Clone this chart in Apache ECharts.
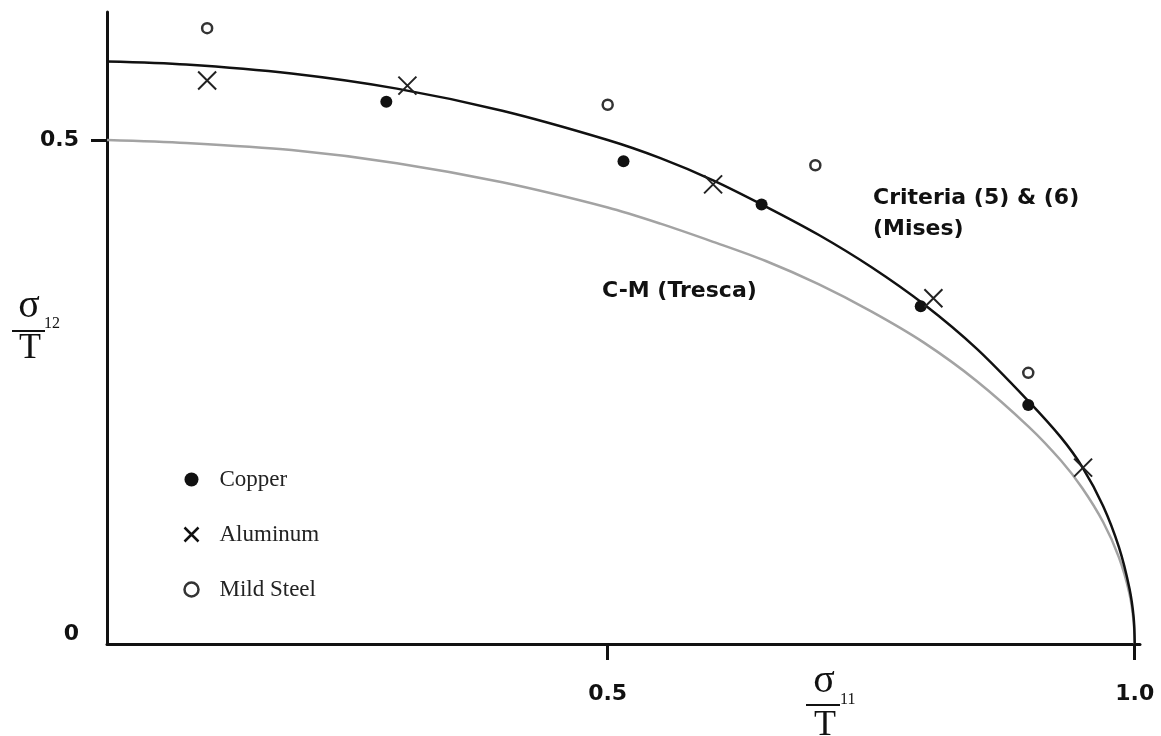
<!DOCTYPE html>
<html>
<head>
<meta charset="utf-8">
<script src="https://cdn.jsdelivr.net/npm/echarts@6/dist/echarts.min.js"></script>
<style>
  html, body { margin: 0; padding: 0; background: #fff; }
  #chart { width: 1161px; height: 736px; }
</style>
</head>
<body>
<div id="chart"></div>
<script>
// ---- Data ----
// Mises criterion curve (black)
const misesX = [0.025, 0.1, 0.2, 0.3, 0.4, 0.5, 0.55, 0.6, 0.65, 0.7, 0.75, 0.8, 0.85, 0.9, 0.93, 0.95, 0.97, 0.985, 0.995, 0.999, 1.0];
const misesY = [0.578, 0.575, 0.566, 0.551, 0.529, 0.500, 0.482, 0.460, 0.434, 0.406, 0.374, 0.337, 0.293, 0.240, 0.205, 0.176, 0.137, 0.096, 0.055, 0.026, 0.0];
// C-M (Tresca) curve (grey)
const trescaX = [0.025, 0.1, 0.2, 0.3, 0.4, 0.5, 0.55, 0.6, 0.65, 0.7, 0.75, 0.8, 0.85, 0.9, 0.93, 0.95, 0.97, 0.985, 0.995, 0.999, 1.0];
const trescaY = [0.500, 0.497, 0.490, 0.477, 0.458, 0.433, 0.417, 0.399, 0.380, 0.357, 0.330, 0.299, 0.261, 0.215, 0.182, 0.155, 0.121, 0.086, 0.050, 0.022, 0.0];
// Experimental points
const copperX = [0.290, 0.515, 0.646, 0.797, 0.899];
const copperY = [0.538, 0.479, 0.436, 0.335, 0.237];
const aluminumX = [0.120, 0.310, 0.600, 0.809, 0.951];
const aluminumY = [0.559, 0.554, 0.456, 0.343, 0.175];
const steelX = [0.120, 0.500, 0.697, 0.899];
const steelY = [0.611, 0.535, 0.475, 0.269];
// Tick labels
const xTicks = [0.5, 1.0];
const yTicks = [0, 0.5];
const yTickMarks = [0.5];
const seriesNames = ['Copper', 'Aluminum', 'Mild Steel'];

const pairs = (xs, ys) => xs.map((x, i) => [x, ys[i]]);

const SANS = '"DejaVu Sans", sans-serif';
const SERIF = '"Liberation Serif", "DejaVu Serif", serif';

const chart = echarts.init(document.getElementById('chart'), null, { renderer: 'canvas' });

const option = {
  backgroundColor: '#ffffff',
  animation: false,
  grid: { left: 107, right: 21, top: 12, bottom: 92 },
  xAxis: {
    type: 'value',
    min: 0.025,
    max: 1.005,
    axisLine: { show: true, onZero: false, lineStyle: { color: '#111', width: 3 } },
    axisTick: { show: true, customValues: xTicks, length: 16, lineStyle: { color: '#111', width: 3 } },
    axisLabel: {
      show: true, customValues: xTicks, margin: 39,
      fontFamily: SANS, fontWeight: 'bold', fontSize: 22, color: '#111',
      formatter: v => v.toFixed(1)
    },
    splitLine: { show: false }
  },
  yAxis: {
    type: 'value',
    min: 0,
    max: 0.627,
    axisLine: { show: true, onZero: false, lineStyle: { color: '#111', width: 3 } },
    axisTick: { show: true, customValues: yTickMarks, length: 16, lineStyle: { color: '#111', width: 3 } },
    axisLabel: {
      show: true, customValues: yTicks, margin: 28,
      fontFamily: SANS, fontWeight: 'bold', fontSize: 22, color: '#111',
      formatter: v => (v === 0 ? '{z|0}' : String(v)),
      rich: {
        z: { fontFamily: SANS, fontWeight: 'bold', fontSize: 22, color: '#111', padding: [0, 0, 20, 0] }
      }
    },
    splitLine: { show: false }
  },
  legend: {
    orient: 'vertical',
    left: 177,
    top: 463,
    itemWidth: 30,
    itemHeight: 14,
    itemGap: 32,
    textStyle: { fontFamily: SERIF, fontSize: 23, lineHeight: 22, color: '#222', padding: [0, 0, 0, 8] },
    data: [
      { name: 'Copper', itemStyle: { borderWidth: 0 } },
      { name: 'Aluminum', itemStyle: { borderWidth: 2.5, borderColor: '#111' } },
      { name: 'Mild Steel', itemStyle: { borderWidth: 2.5, borderColor: '#333' } }
    ]
  },
  series: [
    {
      name: 'Mises', type: 'line', data: pairs(misesX, misesY),
      showSymbol: false, smooth: 0.3, silent: true, z: 2,
      lineStyle: { color: '#111', width: 2.5 }
    },
    {
      name: 'Tresca', type: 'line', data: pairs(trescaX, trescaY),
      showSymbol: false, smooth: 0.3, silent: true, z: 1,
      lineStyle: { color: '#a3a3a3', width: 2.5 }
    },
    {
      name: seriesNames[0], type: 'scatter', data: pairs(copperX, copperY), z: 5,
      symbol: 'circle', symbolSize: 12,
      itemStyle: { color: '#111', opacity: 1 }
    },
    {
      name: seriesNames[1], type: 'scatter', data: pairs(aluminumX, aluminumY), z: 5,
      symbol: 'path://M0,0L20,20M20,0L0,20', symbolSize: 18,
      itemStyle: { color: 'none', borderColor: '#222', borderWidth: 2, opacity: 1 }
    },
    {
      name: seriesNames[2], type: 'scatter', data: pairs(steelX, steelY), z: 5,
      symbol: 'circle', symbolSize: 10,
      itemStyle: { color: '#fff', borderColor: '#333', borderWidth: 2.5, opacity: 1 }
    }
  ],
  graphic: [
    { type: 'text', left: 873, top: 183, z: 10,
      style: { text: 'Criteria (5) & (6)\n(Mises)', font: 'bold 22px ' + SANS, lineHeight: 31, fill: '#111' } },
    { type: 'text', left: 602, top: 280, z: 10,
      style: { text: 'C-M (Tresca)', font: 'bold 22px ' + SANS, fill: '#111' } },
    // y-axis name: sigma_12 / T
    { type: 'text', x: 29, y: 306, z: 10,
      style: { text: 'σ', font: '40px ' + SERIF, fill: '#111', align: 'center', verticalAlign: 'middle' } },
    { type: 'text', x: 44, y: 324, z: 10,
      style: { text: '12', font: '16px ' + SERIF, fill: '#111', align: 'left', verticalAlign: 'middle' } },
    { type: 'rect', z: 10, shape: { x: 12, y: 330, width: 33, height: 2 }, style: { fill: '#111' } },
    { type: 'text', x: 30, y: 349, z: 10,
      style: { text: 'T', font: '36px ' + SERIF, fill: '#111', align: 'center', verticalAlign: 'middle' } },
    // x-axis name: sigma_11 / T
    { type: 'text', x: 824, y: 681, z: 10,
      style: { text: 'σ', font: '40px ' + SERIF, fill: '#111', align: 'center', verticalAlign: 'middle' } },
    { type: 'text', x: 840, y: 700, z: 10,
      style: { text: '11', font: '16px ' + SERIF, fill: '#111', align: 'left', verticalAlign: 'middle' } },
    { type: 'rect', z: 10, shape: { x: 806, y: 704, width: 34, height: 2 }, style: { fill: '#111' } },
    { type: 'text', x: 825, y: 726, z: 10,
      style: { text: 'T', font: '36px ' + SERIF, fill: '#111', align: 'center', verticalAlign: 'middle' } }
  ]
};

chart.setOption(option);
</script>
</body>
</html>
